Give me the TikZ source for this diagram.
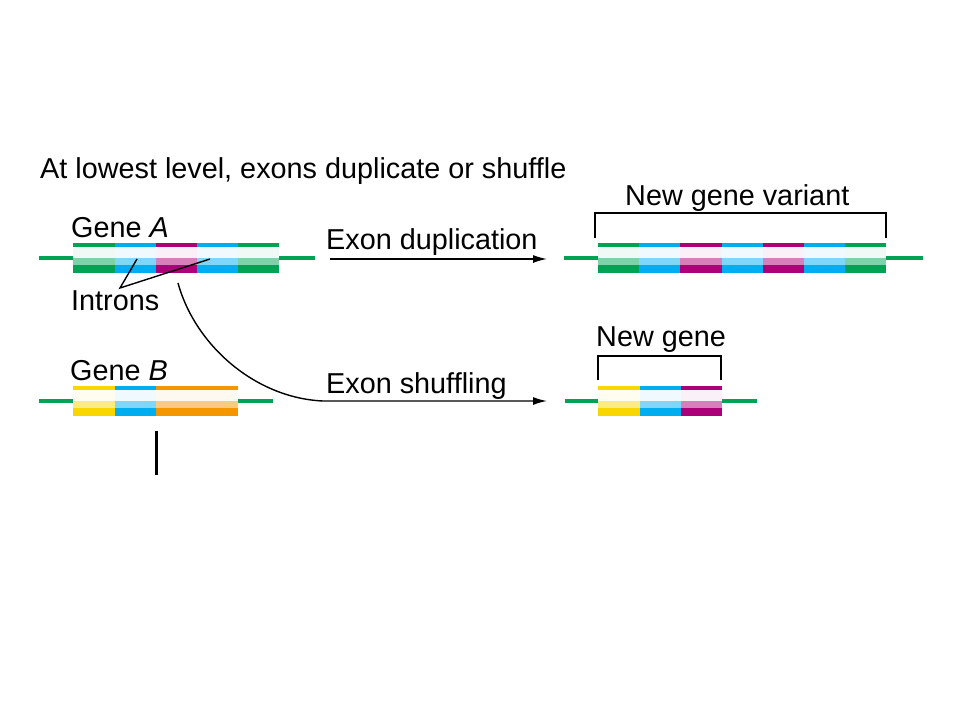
\documentclass[tikz,border=0pt]{standalone}
\usepackage{fontspec}
\setmainfont{Liberation Sans}
\usetikzlibrary{arrows.meta}
\definecolor{exgreen}{RGB}{0,163,84}
\definecolor{exblue}{RGB}{0,174,239}
\definecolor{exmag}{RGB}{172,0,120}
\definecolor{exyellow}{RGB}{250,214,0}
\definecolor{exorange}{RGB}{243,150,0}
\newcommand{\exonbox}[4]{%
  \fill[#4] ({#1},{#3}) rectangle ({#2+0.5},{#3+3.5});
  \fill[#4!6] ({#1},{#3+3.5}) rectangle ({#2+0.5},{#3+15});
  \fill[#4!50] ({#1},{#3+15}) rectangle ({#2+0.5},{#3+22});
  \fill[#4] ({#1},{#3+22}) rectangle ({#2+0.5},{#3+30});
}
\tikzset{
  lbl/.style={inner sep=0pt, anchor=base west, font=\fontsize{28.8}{34}\selectfont},
  arr/.style={line width=1.4pt, -{Latex[length=14pt,width=8pt]}},
  flank/.style={exgreen, line width=3.2pt},
  bracket/.style={line width=1.4pt}
}
\begin{document}
\begin{tikzpicture}[x=1pt,y=-1pt]
  \useasboundingbox[fill=white] (0,0) rectangle (960,720);
  \node[lbl] (title) at (40,178) {At lowest level, exons duplicate or shuffle};

  \draw[flank] (39,258) -- (73,258);
  \draw[flank] (279,258) -- (315,258);
  \foreach \x/\xx/\c in {73/115/exgreen,115/156/exblue,156/197/exmag,197/238/exblue,238/278.5/exgreen}
    \exonbox{\x}{\xx}{243}{\c};
  \node[lbl] (geneA) at (71,237) {Gene \textit{A}};
  \node[lbl] (introns) at (71,310) {Introns};
  \coordinate (intronpt) at (120,288);
  \coordinate (intronA) at (137,259);
  \coordinate (intronB) at (210,259);
  \draw[line width=1.4pt] (intronA) -- (intronpt) -- (intronB);

  \draw[flank] (39,401) -- (73,401);
  \draw[flank] (238,401) -- (273,401);
  \foreach \x/\xx/\c in {73/115/exyellow,115/156/exblue,156/237.5/exorange}
    \exonbox{\x}{\xx}{386}{\c};
  \node[lbl] (geneB) at (70,380) {Gene \textit{B}};
  \draw[line width=3pt] (156,431) -- (156,475);

  \coordinate (dupstart) at (330,259);
  \coordinate (dupend) at (547,259);
  \draw[arr] (dupstart) -- (dupend);
  \node[lbl] (dup) at (326,249) {Exon duplication};

  \coordinate (shufstart) at (178,283);
  \coordinate (shufend) at (547,401);
  \draw[arr] (shufstart) .. controls (195,345) and (255,398) .. (323,401) -- (shufend);
  \node[lbl] (shuf) at (326,393) {Exon shuffling};

  \draw[flank] (564,258) -- (598,258);
  \draw[flank] (886,258) -- (923,258);
  \foreach \c [count=\i from 0] in {exgreen,exblue,exmag,exblue,exmag,exblue,exgreen}
    \exonbox{598+41.2*\i}{597.5+41.2*(\i+1)}{243}{\c};
  \draw[bracket] (595,238) -- (595,213) -- (886,213) -- (886,238);
  \node[lbl] (variant) at (625,205) {New gene variant};

  \draw[flank] (565,401) -- (598,401);
  \draw[flank] (722,401) -- (757,401);
  \foreach \x/\xx/\c in {598/640/exyellow,640/681/exblue,681/721.5/exmag}
    \exonbox{\x}{\xx}{386}{\c};
  \draw[bracket] (598,380) -- (598,356) -- (721,356) -- (721,380);
  \node[lbl] (newgene) at (596,346) {New gene};
\end{tikzpicture}
\end{document}
